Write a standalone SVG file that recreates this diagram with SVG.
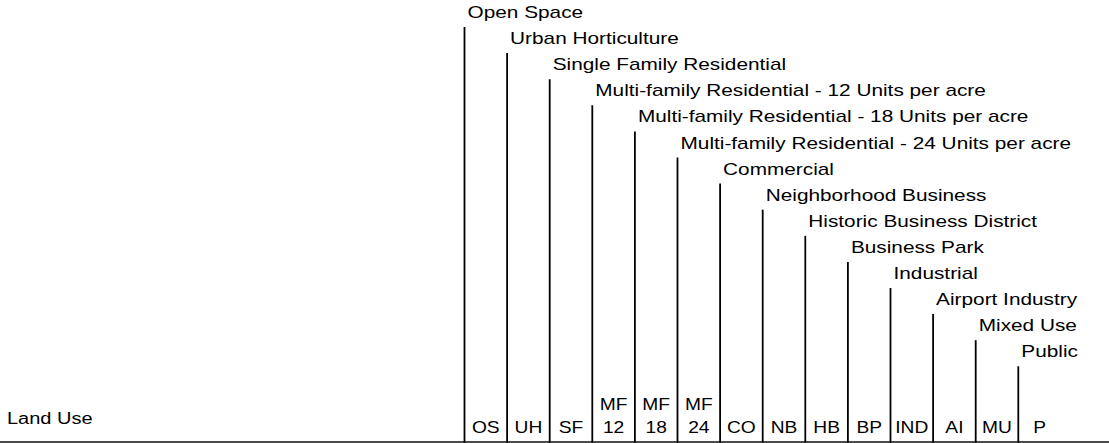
<svg xmlns="http://www.w3.org/2000/svg" width="1109" height="443" viewBox="0 0 1109 443">
<style>
text { font-family: "Liberation Sans", Arial, sans-serif; font-size: 16px; fill: #000; }
.lbl { }
.ab { text-anchor: middle; }
.vl { stroke: #000; stroke-width: 1.8; fill: none; }
.base { stroke: #111; stroke-width: 1.5; fill: none; }
</style>
<rect width="1109" height="443" fill="#fff"/>
<g id="connectors">
<line class="vl" x1="464.5" y1="27" x2="464.5" y2="443"/>
<line class="vl" x1="507.1" y1="53.1" x2="507.1" y2="443"/>
<line class="vl" x1="549.7" y1="79.2" x2="549.7" y2="443"/>
<line class="vl" x1="592.3" y1="105.3" x2="592.3" y2="443"/>
<line class="vl" x1="634.9" y1="131.4" x2="634.9" y2="443"/>
<line class="vl" x1="677.5" y1="157.5" x2="677.5" y2="443"/>
<line class="vl" x1="720.1" y1="183.6" x2="720.1" y2="443"/>
<line class="vl" x1="762.7" y1="209.7" x2="762.7" y2="443"/>
<line class="vl" x1="805.3" y1="235.8" x2="805.3" y2="443"/>
<line class="vl" x1="847.9" y1="261.9" x2="847.9" y2="443"/>
<line class="vl" x1="890.5" y1="288" x2="890.5" y2="443"/>
<line class="vl" x1="933.1" y1="314.1" x2="933.1" y2="443"/>
<line class="vl" x1="975.7" y1="340.2" x2="975.7" y2="443"/>
<line class="vl" x1="1018.3" y1="366.3" x2="1018.3" y2="443"/>
<line class="base" x1="0" y1="442" x2="1109" y2="442"/>
</g>
<g id="row-label"><text x="7" y="424" transform="translate(7 424) scale(1.25 1) translate(-7 -424)">Land Use</text></g>
<g id="n-os"><text class="lbl" transform="translate(467.5 18) scale(1.3 1)">Open Space</text><text class="ab" transform="translate(485.8 433) scale(1.2 1)">OS</text></g>
<g id="n-uh"><text class="lbl" transform="translate(510.1 44.1) scale(1.3 1)">Urban Horticulture</text><text class="ab" transform="translate(528.4 433) scale(1.2 1)">UH</text></g>
<g id="n-sf"><text class="lbl" transform="translate(552.7 70.2) scale(1.3 1)">Single Family Residential</text><text class="ab" transform="translate(571 433) scale(1.2 1)">SF</text></g>
<g id="n-mf12"><text class="lbl" transform="translate(595.3 96.3) scale(1.3 1)">Multi-family Residential - 12 Units per acre</text><text class="ab" transform="translate(613.6 410) scale(1.2 1)">MF</text><text class="ab" transform="translate(613.6 433) scale(1.2 1)">12</text></g>
<g id="n-mf18"><text class="lbl" transform="translate(637.9 122.4) scale(1.3 1)">Multi-family Residential - 18 Units per acre</text><text class="ab" transform="translate(656.2 410) scale(1.2 1)">MF</text><text class="ab" transform="translate(656.2 433) scale(1.2 1)">18</text></g>
<g id="n-mf24"><text class="lbl" transform="translate(680.5 148.5) scale(1.3 1)">Multi-family Residential - 24 Units per acre</text><text class="ab" transform="translate(698.8 410) scale(1.2 1)">MF</text><text class="ab" transform="translate(698.8 433) scale(1.2 1)">24</text></g>
<g id="n-co"><text class="lbl" transform="translate(723.1 174.6) scale(1.3 1)">Commercial</text><text class="ab" transform="translate(741.4 433) scale(1.2 1)">CO</text></g>
<g id="n-nb"><text class="lbl" transform="translate(765.7 200.7) scale(1.3 1)">Neighborhood Business</text><text class="ab" transform="translate(784 433) scale(1.2 1)">NB</text></g>
<g id="n-hb"><text class="lbl" transform="translate(808.3 226.8) scale(1.3 1)">Historic Business District</text><text class="ab" transform="translate(826.6 433) scale(1.2 1)">HB</text></g>
<g id="n-bp"><text class="lbl" transform="translate(850.9 252.9) scale(1.3 1)">Business Park</text><text class="ab" transform="translate(869.2 433) scale(1.2 1)">BP</text></g>
<g id="n-ind"><text class="lbl" transform="translate(893.5 279) scale(1.3 1)">Industrial</text><text class="ab" transform="translate(911.8 433) scale(1.2 1)">IND</text></g>
<g id="n-ai"><text class="lbl" transform="translate(936.1 305.1) scale(1.3 1)">Airport Industry</text><text class="ab" transform="translate(954.4 433) scale(1.2 1)">AI</text></g>
<g id="n-mu"><text class="lbl" transform="translate(978.7 331.2) scale(1.3 1)">Mixed Use</text><text class="ab" transform="translate(997 433) scale(1.2 1)">MU</text></g>
<g id="n-p"><text class="lbl" transform="translate(1021.3 357.3) scale(1.3 1)">Public</text><text class="ab" transform="translate(1039.6 433) scale(1.2 1)">P</text></g>
</svg>
